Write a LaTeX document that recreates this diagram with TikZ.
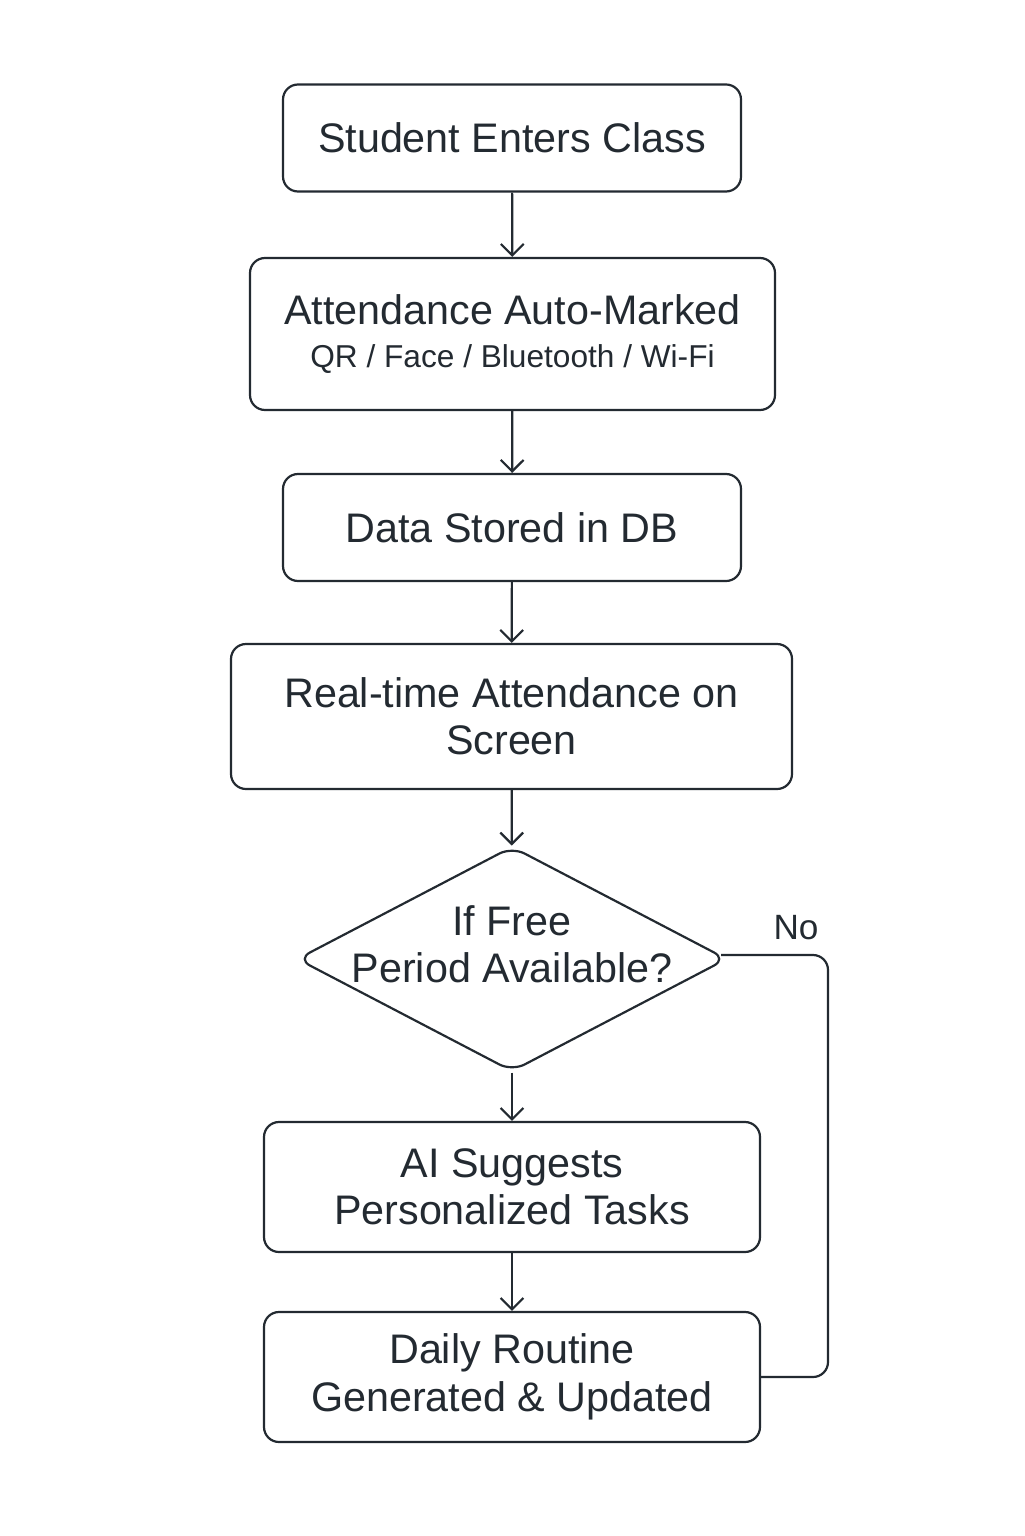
\documentclass[tikz,border=0pt]{standalone}
\usepackage{fontspec}
\setmainfont{Liberation Sans}
\usetikzlibrary{arrows.meta,shapes.geometric}
\definecolor{ink}{HTML}{232A31}

\begin{document}
\begin{tikzpicture}[
		>={Straight Barb[length=6.5pt,width=13pt]},
		process/.style={
			draw=ink,
			line width=1.25pt,
			rounded corners=0.3cm,
			align=center,
			text=ink,
			font=\fontsize{23.5}{27}\selectfont
		},
		decision/.style={
			draw=ink,
			line width=1.25pt,
			diamond,
			rounded corners=8pt,
			inner sep=0pt,
			minimum width=8.6cm,
			minimum height=4.5cm
		},
		flow/.style={
			->,
			draw=ink,
			line width=1.25pt
		}
		]
		\useasboundingbox (0,0) rectangle (20.48,-30.72);
		
		\node[process,minimum width=9.16cm,minimum height=2.14cm] (enter) at (10.24,-2.76) {Student Enters Class};
		\node[process,minimum width=10.5cm,minimum height=3.04cm] (mark) at (10.25,-6.68)
			{Attendance Auto-Marked\\[-2pt]{\fontsize{18}{22}\selectfont QR / Face / Bluetooth / Wi-Fi}};
		\node[process,minimum width=9.16cm,minimum height=2.14cm] (store) at (10.24,-10.55) {Data Stored in DB};
		\node[process,minimum width=11.22cm,minimum height=2.9cm] (screen) at (10.23,-14.33) {Real-time Attendance on\\Screen};
		
		% decision
		\node[decision] (free) at (10.24,-19.18) {};
		\node[align=center,text=ink,font=\fontsize{23.5}{27}\selectfont,yshift=0.3cm] (freetext) at (free) {If Free\\Period Available?};
		\node[text=ink,font=\fontsize{20}{24}\selectfont] (no) at (15.92,-18.56) {No};
		
		\node[process,minimum width=9.92cm,minimum height=2.6cm] (tasks) at (10.24,-23.74) {AI Suggests\\Personalized Tasks};
		\node[process,minimum width=9.92cm,minimum height=2.6cm] (daily) at (10.24,-27.54) {Daily Routine\\Generated \& Updated};
		
		\draw[flow] (enter) -- (mark);
		\draw[flow] (mark) -- (store);
		\draw[flow] (store) -- (screen);
		\draw[flow] (screen) -- (free);
		\draw[flow] (free) -- (tasks);
		\draw[flow] (tasks) -- (daily);
		
		% no branch
		\coordinate (loop) at (16.56,0);
		\draw[draw=ink,line width=1.25pt,rounded corners=0.3cm] ([xshift=-4pt,yshift=0.08cm]free.east) -| (loop |- daily.east) -- (daily.east);
		\end{tikzpicture}
\end{document}
